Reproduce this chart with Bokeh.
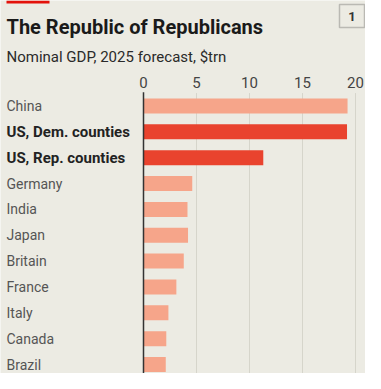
from bokeh.plotting import figure
from bokeh.models import (Range1d, ColumnDataSource, LabelSet, Label, BoxAnnotation)
from bokeh.core.properties import value
from bokeh.embed import file_html
from bokeh.resources import INLINE

categories = ["China", "US, Dem. counties", "US, Rep. counties", "Germany", "India",
              "Japan", "Britain", "France", "Italy", "Canada", "Brazil"]
gdp = [19.25, 19.2, 11.3, 4.6, 4.15, 4.2, 3.8, 3.1, 2.35, 2.15, 2.1]
x_ticks = [0, 5, 10, 15, 20]
x_tick_labels = ["0", "5", "10", "15", "20"]

title_text = "The Republic of Republicans"
subtitle_text = "Nominal GDP, 2025 forecast, $trn"
chart_number = "1"

BG = "#ecebe3"
LIGHT = "#f6a58a"
DARK = "#e9432e"

W, H = 365, 373
PX_PER_UNIT = 10.6
ZERO_X = 143          # canvas x of value 0
ROW = 25.85           # row pitch, px
FIRST_ROW_Y = 105.5   # canvas y of first row centre

idx = list(range(len(categories)))
is_us = [c.startswith("US") for c in categories]
colors = [DARK if u else LIGHT for u in is_us]

x_range = Range1d(-ZERO_X / PX_PER_UNIT, (W - ZERO_X) / PX_PER_UNIT)
y_range = Range1d((H - FIRST_ROW_Y) / ROW, -FIRST_ROW_Y / ROW)

p = figure(width=W, height=H, output_backend="svg", toolbar_location=None,
           x_range=x_range, y_range=y_range, x_axis_type=None, y_axis_type=None,
           min_border=0)
p.background_fill_color = BG
p.border_fill_color = BG
p.outline_line_color = None
p.grid.visible = False

# grid lines (only in chart area)
grid_top = -0.5
grid_bottom = y_range.start
p.segment(x0=x_ticks[1:], x1=x_ticks[1:], y0=grid_top, y1=grid_bottom,
          line_color="#d6d5cb", line_width=1)

src = ColumnDataSource(dict(y=idx, v=gdp, c=colors))
p.hbar(y="y", right="v", left=0, height=0.58, fill_color="c", line_color=None, source=src)

# zero line
p.segment(x0=[x_ticks[0]], x1=[x_ticks[0]], y0=[grid_top - 0.03], y1=[grid_bottom],
          line_color="#333333", line_width=1.5)

# tick labels
ticks_src = ColumnDataSource(dict(x=x_ticks, t=x_tick_labels))
p.add_layout(LabelSet(x="x", y=87, y_units="canvas", text="t", source=ticks_src,
                      text_font=value("Roboto"), text_font_size=value("15px"),
                      text_color=value("#444444"),
                      text_align=value("center"), text_baseline=value("alphabetic")))

norm = ColumnDataSource(dict(y=[i for i, u in zip(idx, is_us) if not u],
                             t=[c for c, u in zip(categories, is_us) if not u]))
bold = ColumnDataSource(dict(y=[i for i, u in zip(idx, is_us) if u],
                             t=[c for c, u in zip(categories, is_us) if u]))
p.add_layout(LabelSet(x=6, y="y", x_units="canvas", text="t", source=norm,
                      text_font=value("Roboto"), text_font_size=value("14px"),
                      text_color=value("#555555"),
                      text_baseline=value("middle"), text_align=value("left")))
p.add_layout(LabelSet(x=6, y="y", x_units="canvas", text="t", source=bold,
                      text_font=value("Roboto"), text_font_size=value("15px"),
                      text_font_style=value("bold"),
                      text_color=value("#222222"), text_baseline=value("middle"),
                      text_align=value("left")))

p.add_layout(Label(x=6, y=26, x_units="canvas", y_units="canvas", text=title_text,
                   text_font="Roboto", text_font_size="20px", text_font_style="bold",
                   text_color="#1a1a1a", text_baseline="alphabetic"))
p.add_layout(Label(x=6, y=56, x_units="canvas", y_units="canvas", text=subtitle_text,
                   text_font="Roboto", text_font_size="15px",
                   text_color="#2a2a2a", text_baseline="alphabetic"))
p.add_layout(BoxAnnotation(left=339, right=364, top=4, bottom=27, left_units="canvas",
                           right_units="canvas", top_units="canvas", bottom_units="canvas",
                           fill_alpha=0, line_color="#444444", line_width=1.5))
p.add_layout(Label(x=351.5, y=16, x_units="canvas", y_units="canvas", text=chart_number,
                   text_font="Roboto", text_font_size="13px", text_font_style="bold",
                   text_color="#333333", text_baseline="middle", text_align="center"))
p.add_layout(BoxAnnotation(left=6, right=49, top=0, bottom=3, left_units="canvas",
                           right_units="canvas", top_units="canvas", bottom_units="canvas",
                           fill_color="#e3120b", fill_alpha=1, line_color=None))

open("out.html", "w").write(file_html(p, INLINE))
